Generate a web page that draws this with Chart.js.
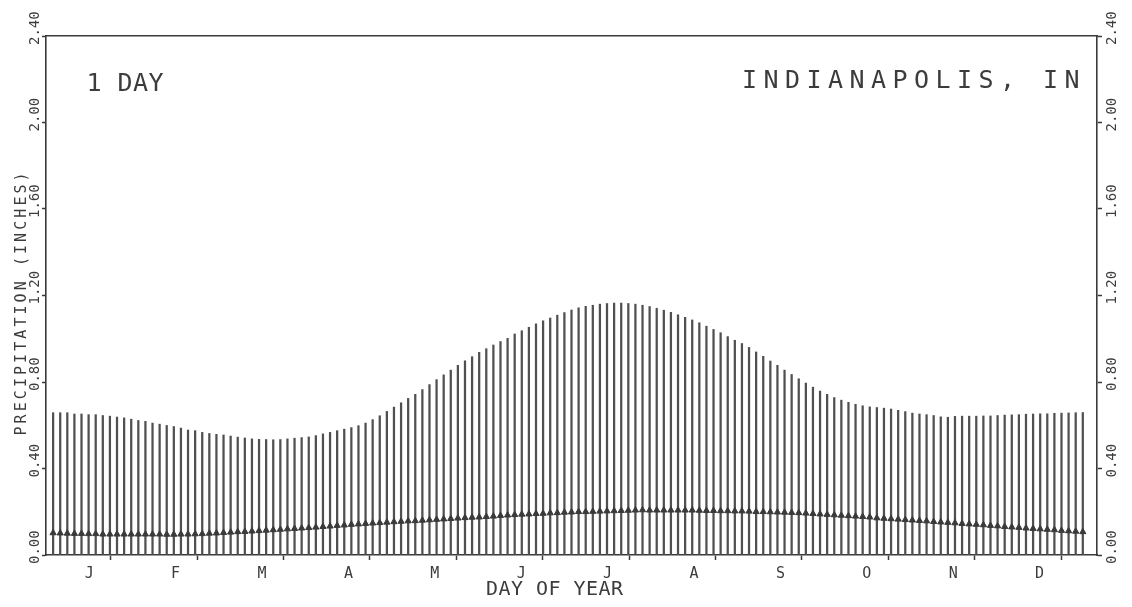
<!DOCTYPE html>
<html><head><meta charset="utf-8">
<script src="https://cdn.jsdelivr.net/npm/chart.js@4.4.1/dist/chart.umd.min.js"></script>
<style>html,body{margin:0;padding:0;background:#fff;}#wrap{width:1132px;height:607px;}</style>
</head><body><div id="wrap"><canvas id="c" width="1132" height="607"></canvas></div>
<script>
// ---- data ----
const MONTH_LABELS = ['J','F','M','A','M','J','J','A','S','O','N','D'];
const Y_TICKS = [0, 0.4, 0.8, 1.2, 1.6, 2.0, 2.4];
const Y_TICK_LABELS = ['0.00','0.40','0.80','1.20','1.60','2.00','2.40'];
const TITLE_LEFT = '1 DAY';
const TITLE_RIGHT = 'INDIANAPOLIS, IN';
const X_TITLE = 'DAY OF YEAR';
const Y_TITLE = 'PRECIPITATION (INCHES)';
const YEAR_DAYS = 365;
const STEP_DAYS = 2.5;
// upper value of each vertical line (inches)
const UPPER = [
0.658,0.658,0.658,0.652,0.652,0.649,0.649,0.645,0.642,0.638,
0.634,0.628,0.622,0.618,0.610,0.605,0.599,0.594,0.587,0.578,
0.575,0.567,0.562,0.558,0.555,0.550,0.545,0.541,0.537,0.535,
0.534,0.533,0.534,0.537,0.540,0.543,0.546,0.552,0.560,0.567,
0.575,0.582,0.589,0.598,0.610,0.626,0.644,0.664,0.684,0.704,
0.724,0.743,0.765,0.788,0.811,0.833,0.855,0.877,0.898,0.917,
0.937,0.954,0.971,0.987,1.002,1.022,1.037,1.053,1.069,1.083,
1.096,1.109,1.121,1.133,1.143,1.150,1.155,1.160,1.163,1.165,
1.165,1.163,1.160,1.155,1.149,1.141,1.132,1.122,1.111,1.099,
1.087,1.074,1.058,1.043,1.028,1.010,0.993,0.978,0.960,0.939,
0.919,0.897,0.877,0.855,0.835,0.815,0.795,0.776,0.758,0.743,
0.728,0.716,0.706,0.697,0.690,0.685,0.682,0.679,0.675,0.669,
0.663,0.656,0.652,0.649,0.645,0.639,0.637,0.641,0.642,0.642,
0.642,0.643,0.643,0.645,0.647,0.648,0.649,0.651,0.652,0.653,
0.653,0.655,0.656,0.657,0.658,0.659
];
// marker value on each line (inches)
const LOWER = [
0.102,0.101,0.100,0.099,0.099,0.098,0.098,0.096,0.096,0.096,
0.096,0.096,0.096,0.096,0.096,0.096,0.095,0.095,0.096,0.096,
0.097,0.098,0.100,0.101,0.103,0.105,0.107,0.108,0.110,0.112,
0.114,0.116,0.118,0.120,0.122,0.124,0.126,0.128,0.131,0.133,
0.136,0.138,0.141,0.143,0.145,0.147,0.149,0.151,0.153,0.155,
0.157,0.158,0.160,0.162,0.164,0.166,0.168,0.170,0.172,0.174,
0.175,0.177,0.179,0.182,0.184,0.186,0.188,0.189,0.191,0.192,
0.194,0.195,0.197,0.198,0.200,0.200,0.201,0.202,0.203,0.204,
0.205,0.206,0.207,0.208,0.207,0.207,0.207,0.207,0.207,0.207,
0.207,0.206,0.205,0.205,0.204,0.204,0.203,0.203,0.202,0.200,
0.200,0.199,0.198,0.197,0.196,0.195,0.193,0.191,0.189,0.187,
0.185,0.183,0.181,0.179,0.177,0.175,0.171,0.169,0.167,0.165,
0.163,0.161,0.159,0.157,0.154,0.152,0.150,0.148,0.145,0.143,
0.141,0.139,0.136,0.134,0.131,0.129,0.127,0.124,0.122,0.120,
0.118,0.116,0.113,0.111,0.109,0.107
];
const DAYS = UPPER.map((_, i) => (i + 1) * STEP_DAYS);

// ---- styling ----
const INK = '#3a3a3a';
const BAR = '#505050';
const TXT = '#3c3c3c';
const FONT = '"DejaVu Sans Mono", monospace';
const X_MAX = 370;

function spaced(ctx, text, x0, y, pitch) {
  ctx.textAlign = 'center';
  for (let k = 0; k < text.length; k++) ctx.fillText(text[k], x0 + k * pitch, y);
}

const textPlugin = {
  id: 'plotterText',
  afterDraw(chart) {
    const ctx = chart.ctx;
    const ys = chart.scales.y;
    const ca = chart.chartArea;
    ctx.save();
    ctx.fillStyle = TXT;
    ctx.textBaseline = 'alphabetic';
    // rotated tick labels on both sides
    ctx.font = '14px ' + FONT;
    Y_TICKS.forEach((v, i) => {
      const py = ys.getPixelForValue(v);
      [[ca.left - 7, py + 9], [ca.right + 19, py + 9]].forEach(([bx, by]) => {
        ctx.save();
        ctx.translate(bx, by);
        ctx.rotate(-Math.PI / 2);
        ctx.textAlign = 'left';
        ctx.fillText(Y_TICK_LABELS[i], 0, 0);
        ctx.restore();
      });
    });
    // y title
    ctx.font = '15px ' + FONT;
    ctx.save();
    ctx.translate(26, 431);
    ctx.rotate(-Math.PI / 2);
    spaced(ctx, Y_TITLE, 0, 0, 12.1);
    ctx.restore();
    // x title
    ctx.font = '20px ' + FONT;
    spaced(ctx, X_TITLE, 492, ca.bottom + 40, 12.5);
    // in-plot titles
    ctx.font = '25px ' + FONT;
    spaced(ctx, TITLE_LEFT, 94, ca.top + 55, 15.5);
    spaced(ctx, TITLE_RIGHT, 749.5, ca.top + 51.5, 21.5);
    ctx.restore();
  }
};

const monthTicks = [];
for (let k = 0; k <= MONTH_LABELS.length * 2; k++) monthTicks.push(k * YEAR_DAYS / (MONTH_LABELS.length * 2));

new Chart(document.getElementById('c'), {
  type: 'bar',
  data: {
    datasets: [
      {
        type: 'line',
        data: DAYS.map((d, i) => ({x: d, y: LOWER[i]})),
        showLine: false,
        pointStyle: 'triangle',
        pointRadius: 3.6,
        pointBackgroundColor: INK,
        pointBorderColor: INK,
        pointBorderWidth: 1,
        xAxisID: 'x', yAxisID: 'y',
        order: 0
      },
      {
        type: 'bar',
        data: DAYS.map((d, i) => ({x: d, y: UPPER[i]})),
        backgroundColor: BAR,
        barThickness: 1.6,
        xAxisID: 'x', yAxisID: 'y',
        order: 1
      }
    ]
  },
  options: {
    responsive: false,
    animation: false,
    devicePixelRatio: 1,
    layout: {padding: {top: 36, left: 0, right: 0, bottom: 0}},
    plugins: {legend: {display: false}, tooltip: {enabled: false}, title: {display: false}},
    scales: {
      x: {
        type: 'linear', position: 'bottom', min: 0, max: X_MAX, offset: false,
        afterBuildTicks: s => { s.ticks = monthTicks.map(v => ({value: v})); },
        afterFit: s => { s.height = 52; },
        ticks: {
          autoSkip: false, maxRotation: 0, minRotation: 0, padding: 5,
          font: {family: 'DejaVu Sans Mono', size: 15}, color: TXT,
          callback: (v, i) => (i % 2 === 1 ? MONTH_LABELS[(i - 1) / 2] : '')
        },
        grid: {drawOnChartArea: false, drawTicks: true, tickLength: 5, tickWidth: 1.5,
               tickColor: c => (c.index % 2 === 0 ? INK : 'rgba(0,0,0,0)')},
        border: {display: true, color: INK, width: 1.6}
      },
      xTop: {
        type: 'linear', position: 'top', min: 0, max: X_MAX,
        afterFit: s => { s.height = 0; },
        ticks: {display: false},
        grid: {display: false, drawTicks: false},
        border: {display: true, color: INK, width: 1.6}
      },
      y: {
        type: 'linear', position: 'left', min: 0, max: 2.4,
        afterBuildTicks: s => { s.ticks = Y_TICKS.map(v => ({value: v})); },
        afterFit: s => { s.width = 46; },
        ticks: {display: false},
        grid: {drawOnChartArea: false, drawTicks: true, tickLength: 4, tickWidth: 1.5, tickColor: INK},
        border: {display: true, color: INK, width: 1.6}
      },
      y2: {
        type: 'linear', position: 'right', min: 0, max: 2.4,
        afterBuildTicks: s => { s.ticks = Y_TICKS.map(v => ({value: v})); },
        afterFit: s => { s.width = 35; },
        ticks: {display: false},
        grid: {drawOnChartArea: false, drawTicks: true, tickLength: 5, tickWidth: 1.5, tickColor: INK},
        border: {display: true, color: INK, width: 1.6}
      }
    }
  },
  plugins: [textPlugin]
});
</script></body></html>
